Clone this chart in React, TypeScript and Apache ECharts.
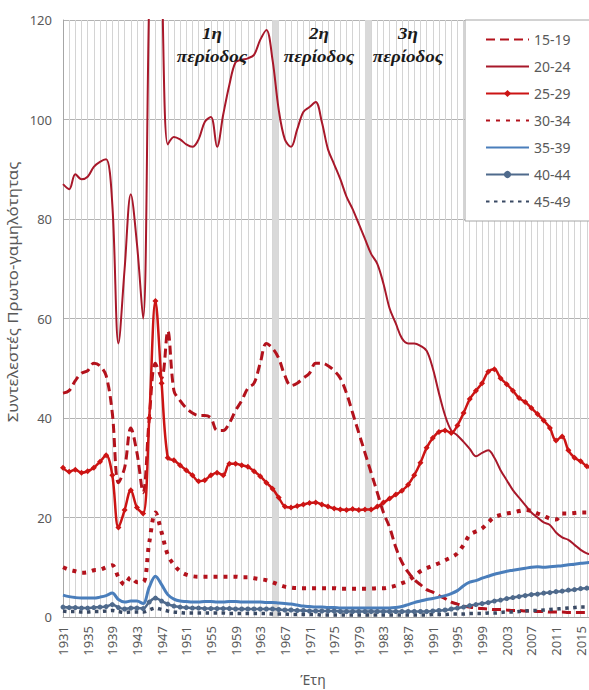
import React, { useEffect, useRef } from "react";
import * as echarts from "echarts";

const years: string[] = Array.from({ length: 87 }, (_, i) => String(1931 + i));

const age1519 = [
  45, 45.5, 47.5, 49, 49.5, 51, 50.5, 48.5, 41, 27,
  30, 38, 33, 25, 40, 51, 48, 57.5, 45.5, 43.5,
  42, 41, 40.5, 40.5, 40, 37.5, 37.5, 39, 41.5, 43.5,
  46, 47, 51, 55, 54, 52, 48.5, 46.5, 47, 48,
  49, 51, 51, 50.5, 49.5, 48, 45, 41, 37, 33,
  29, 25, 21, 18, 14, 11, 9, 7.5, 6.5, 5.5,
  5, 4.3, 3.7, 3, 2.6, 2.2, 2, 1.8, 1.7, 1.6,
  1.5, 1.5, 1.4, 1.3, 1.3, 1.2, 1.2, 1.1, 1.1, 1.0,
  1.0, 1.0, 0.9, 0.9, 0.9, 0.9, 0.9,
];

const age2024 = [
  87, 86, 89, 88, 88.5, 90.5, 91.5, 92, 83, 55,
  70, 85, 75, 60, 125, 165, 130, 95, 96.5, 96,
  95, 94.5, 96, 99.5, 100.5, 94.5, 101, 107, 111.5, 112,
  112.3, 113, 116, 118, 112, 102, 96, 94.5, 98, 101.5,
  102.5, 103.5, 99.5, 94, 91, 88, 84.5, 82, 79, 76,
  73, 71, 67, 62, 59, 56, 55, 55, 54.5, 53.5,
  50, 45, 40.5, 37.5, 36.5, 35.2, 33.8, 32.3, 33, 33.5,
  32, 29.5, 27.5, 25.5, 24, 22.5, 21, 20, 19, 18.5,
  17, 16, 15.5, 14.5, 13.5, 12.8, 12.5,
];

const age2529 = [
  30, 29.2, 29.6, 29, 29.3, 30, 31.2, 32.5, 28.5, 18,
  21.5, 25.5, 22, 20.8, 40, 63.5, 47, 32, 31.5, 30.5,
  29.5, 28.5, 27.3, 27.5, 28.5, 29, 28.5, 30.8, 30.8, 30.5,
  30.2, 29.3, 28.3, 27, 25.8, 24, 22.2, 22, 22.3, 22.6,
  22.9, 23, 22.6, 22.2, 21.8, 21.6, 21.5, 21.7, 21.5, 21.6,
  21.6, 22.2, 23, 23.8, 24.6, 25.4, 26.6, 28.5, 31, 34,
  36, 37.2, 37.5, 37, 38.5, 41, 43.8, 45.5, 47, 49.3,
  49.8, 48, 46.8, 45.5, 44, 43.2, 42, 40.8, 39.5, 38,
  35.5, 36.3, 33.5, 32, 31.3, 30.3, 29.8,
];

const age3034 = [
  10, 9.5, 9.2, 8.9, 9, 9.4, 9.5, 10, 10.4, 8,
  6.5, 8, 7, 7, 15, 21, 17, 12.5, 10.5, 9.2,
  8.5, 8.2, 8.1, 8.1, 8.1, 8.1, 8.1, 8.1, 8.1, 8,
  8, 7.8, 7.6, 7.4, 7, 6.5, 6.1, 5.9, 5.8, 5.8,
  5.8, 5.8, 5.8, 5.8, 5.8, 5.7, 5.7, 5.7, 5.7, 5.7,
  5.7, 5.8, 5.8, 6, 6.3, 6.8, 7.3, 8.2, 9.2, 9.8,
  10.3, 10.8, 11.4, 12, 12.8, 14.5, 16.5, 17.2, 17.8, 19,
  20.1, 20.5, 20.8, 21, 21.3, 21.5, 21.3, 20.8, 20.3, 19.8,
  19.6, 20.8, 20.8, 20.9, 21, 21, 21,
];

const age3539 = [
  4.4, 4.1, 3.9, 3.8, 3.8, 3.8, 4, 4.3, 4.8, 3.5,
  3, 3.2, 3.2, 2.7, 6, 8.2, 6.5, 4.5, 3.6, 3.2,
  3.1, 3.0, 3.0, 3.1, 3.1, 3.0, 3.0, 3.1, 3.1, 3.0,
  3.0, 3.0, 3.0, 2.9, 2.9, 2.8, 2.7, 2.6, 2.4, 2.2,
  2.1, 2, 2, 1.9, 1.9, 1.8, 1.8, 1.8, 1.8, 1.8,
  1.8, 1.8, 1.8, 1.8, 1.9, 2.1, 2.5, 2.9, 3.2, 3.5,
  3.7, 4, 4.3, 4.7, 5.3, 6.3, 7, 7.3, 7.8, 8.2,
  8.6, 8.9, 9.2, 9.4, 9.6, 9.8, 10, 10.1, 10, 10.1,
  10.2, 10.3, 10.5, 10.6, 10.8, 10.9, 11,
];

const age4044 = [
  2.0, 1.9, 1.9, 1.8, 1.8, 1.9, 2.0, 2.1, 2.5, 1.9,
  1.6, 1.8, 1.8, 1.7, 3.0, 3.8, 3.2, 2.6, 2.2, 2.0,
  1.9, 1.8, 1.8, 1.7, 1.7, 1.7, 1.7, 1.7, 1.6, 1.6,
  1.6, 1.6, 1.6, 1.6, 1.6, 1.5, 1.4, 1.4, 1.3, 1.3,
  1.2, 1.2, 1.2, 1.2, 1.2, 1.1, 1.1, 1.1, 1.1, 1.1,
  1.1, 1.1, 1.1, 1.1, 1.1, 1.1, 1.1, 1.1, 1.1, 1.1,
  1.2, 1.3, 1.4, 1.6, 1.8, 2.0, 2.3, 2.5, 2.7, 2.9,
  3.2, 3.4, 3.7, 3.9, 4.1, 4.3, 4.5, 4.6, 4.8, 4.9,
  5.1, 5.2, 5.4, 5.5, 5.7, 5.8, 5.9,
];

const age4549 = [
  1.2, 1.1, 1.1, 1.0, 1.0, 1.1, 1.1, 1.2, 1.3, 1.1,
  0.9, 1.0, 1.0, 1.0, 1.4, 1.8, 1.5, 1.2, 1.0, 0.9,
  0.8, 0.8, 0.8, 0.8, 0.8, 0.8, 0.8, 0.7, 0.7, 0.7,
  0.7, 0.7, 0.7, 0.7, 0.6, 0.6, 0.6, 0.5, 0.5, 0.5,
  0.5, 0.5, 0.4, 0.4, 0.4, 0.4, 0.4, 0.4, 0.4, 0.4,
  0.4, 0.4, 0.4, 0.4, 0.4, 0.4, 0.4, 0.4, 0.4, 0.4,
  0.5, 0.5, 0.5, 0.6, 0.6, 0.6, 0.7, 0.7, 0.7, 0.8,
  0.8, 0.9, 1.0, 1.0, 1.1, 1.2, 1.3, 1.3, 1.4, 1.5,
  1.6, 1.7, 1.8, 1.9, 2.0, 2.0, 2.1,
];

const periodBands = [
  ["1965", "1966"],
  ["1980", "1981"],
];

const seriesNames = ["15-19", "20-24", "25-29", "30-34", "35-39", "40-44", "45-49"];
const withMarkers = ["25-29", "40-44"];

const yTitle = "Συντελεστές Πρωτο-γαμηλότητας";
const xTitle = "Έτη";
const periodLabels = ["1η\nπερίοδος", "2η\nπερίοδος", "3η\nπερίοδος"];

const FONT = "'Noto Sans', 'DejaVu Sans', sans-serif";
const GRAY = "#595959";

export default function App() {
  const ref = useRef<HTMLDivElement>(null);

  useEffect(() => {
    if (!ref.current) return;
    const chart = echarts.init(ref.current, null, { renderer: "svg" });
    const red = "#B3121C";

    const option: any = {
      animation: false,
      backgroundColor: "#ffffff",
      textStyle: { fontFamily: FONT },
      grid: {
        left: 63,
        top: 20,
        right: 27,
        bottom: 73,
        containLabel: false,
        outerBoundsMode: "none",
      },
      legend: {
        orient: "vertical",
        left: 465,
        top: 20,
        padding: [10, 40, 10, 20],
        itemWidth: 43,
        itemHeight: 9,
        itemGap: 8,
        backgroundColor: "#ffffff",
        borderColor: "#a6a6a6",
        borderWidth: 1,
        textStyle: { fontSize: 14, color: GRAY, fontFamily: FONT, lineHeight: 19 },
        data: seriesNames.map((n) =>
          withMarkers.includes(n)
            ? { name: n }
            : { name: n, itemStyle: { opacity: 0 } }
        ),
      },
      xAxis: {
        type: "category",
        boundaryGap: false,
        data: years,
        axisLine: { show: true, lineStyle: { color: "#a6a6a6" } },
        axisTick: { show: false },
        axisLabel: {
          rotate: 90,
          interval: 3,
          fontSize: 13,
          color: GRAY,
          margin: 9,
          fontFamily: FONT,
        },
        splitLine: {
          show: true,
          interval: 0,
          lineStyle: { color: "#d4d4d4", width: 1 },
        },
        name: xTitle,
        nameLocation: "middle",
        nameGap: 55,
        nameTextStyle: { fontSize: 14, color: GRAY, padding: [0, 30, 0, 0], fontFamily: FONT },
      },
      yAxis: {
        type: "value",
        min: 0,
        max: 120,
        interval: 20,
        axisLine: { show: true, lineStyle: { color: "#a6a6a6" } },
        axisTick: { show: false },
        axisLabel: { fontSize: 13, color: GRAY, margin: 11, fontFamily: FONT },
        splitLine: { show: true, lineStyle: { color: "#b3b3b3", width: 1 } },
      },
      graphic: [
        {
          type: "text",
          x: 13,
          y: 292,
          rotation: Math.PI / 2,
          scaleX: 1.2,
          style: {
            text: yTitle,
            fontSize: 14,
            fill: GRAY,
            fontFamily: FONT,
            align: "center",
            verticalAlign: "middle",
          },
        },
        ...[212, 319, 408].map((x, i) => ({
          type: "text",
          x,
          y: 45,
          z: 10,
          scaleX: 1.12,
          style: {
            text: periodLabels[i],
            fontSize: 17,
            fontWeight: "bold",
            fontStyle: "italic",
            fontFamily: "'Liberation Serif', 'DejaVu Serif', serif",
            fill: "#1a1a1a",
            align: "center",
            verticalAlign: "middle",
            lineHeight: 23,
          },
        })),
      ],
      series: [
        {
          name: "15-19",
          type: "line",
          data: age1519,
          smooth: 0.35,
          symbol: "none",
          color: red,
          lineStyle: { color: red, width: 3, type: [9, 5] },
          markArea: {
            silent: true,
            itemStyle: { color: "#d9d9d9" },
            data: periodBands.map(([a, b]) => [{ xAxis: a }, { xAxis: b }]),
          },
        },
        {
          name: "20-24",
          type: "line",
          data: age2024,
          smooth: 0.35,
          symbol: "none",
          color: "#A8182A",
          lineStyle: { color: "#A8182A", width: 2 },
        },
        {
          name: "25-29",
          type: "line",
          data: age2529,
          smooth: 0.35,
          symbol: "diamond",
          symbolSize: 6,
          showSymbol: true,
          showAllSymbol: true,
          color: "#CC1414",
          itemStyle: { color: "#CC1414" },
          lineStyle: { color: "#CC1414", width: 2.5 },
        },
        {
          name: "30-34",
          type: "line",
          data: age3034,
          smooth: 0.35,
          symbol: "none",
          color: red,
          lineStyle: { color: red, width: 4, type: [4, 6] },
        },
        {
          name: "35-39",
          type: "line",
          data: age3539,
          smooth: 0.35,
          symbol: "none",
          color: "#4A7EBB",
          lineStyle: { color: "#4A7EBB", width: 3 },
        },
        {
          name: "40-44",
          type: "line",
          data: age4044,
          smooth: 0.35,
          symbol: "circle",
          symbolSize: 5,
          showSymbol: true,
          showAllSymbol: true,
          color: "#4F6A8C",
          itemStyle: { color: "#4F6A8C" },
          lineStyle: { color: "#4F6A8C", width: 2.5 },
        },
        {
          name: "45-49",
          type: "line",
          data: age4549,
          smooth: 0.35,
          symbol: "none",
          color: "#3A4A64",
          lineStyle: { color: "#3A4A64", width: 3.5, type: [3.5, 4.5] },
        },
      ],
    };

    chart.setOption(option);
    return () => chart.dispose();
  }, []);

  return (
    <div
      style={{
        position: "fixed",
        left: 0,
        top: 0,
        width: 589,
        height: 690,
        overflow: "hidden",
        background: "#ffffff",
      }}
    >
      <div ref={ref} style={{ width: 620, height: 690 }} />
    </div>
  );
}
